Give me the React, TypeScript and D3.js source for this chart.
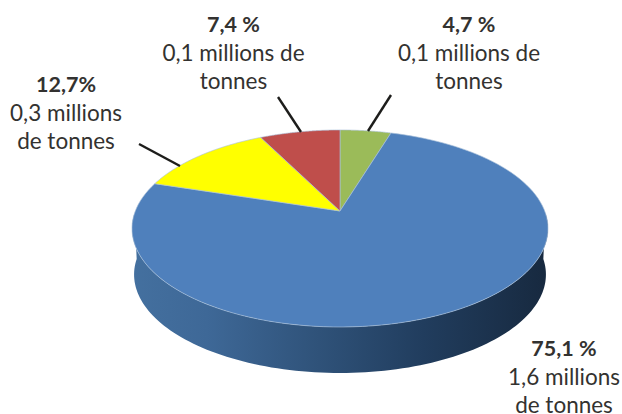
import React from "react";
import * as d3 from "d3";

const sliceNames = ["Vert", "Bleu", "Jaune", "Rouge"];
const sliceShares = [4.7, 75.1, 12.7, 7.4];
const sliceColors = ["#9bbb59", "#4f80bc", "#ffff00", "#bf4e4b"];
const headline = ["4,7 %", "7,4 %", "12,7%", "75,1 %"];
const firstLine = ["0,1 millions de", "0,1 millions de", "0,3 millions", "1,6 millions"];
const secondLine = ["tonnes", "tonnes", "de tonnes", "de tonnes"];
const labelX = [469, 233.5, 66, 564];
const labelY = [32, 32, 92, 356];
const leaderStart: [number, number][] = [[391, 95], [278, 97], [139, 144]];
const leaderEnd: [number, number][] = [[368, 131], [301, 132], [180, 166]];

const W = 622, H = 414;
const cx = 340, cy = 211;
const a = 204.7, b = 95.4, k = 0.1776;
const depth = 46;

// Perspective projection of the disc: angle is clockwise from 12 o'clock
const project = (r: number, t: number): [number, number] => {
  const u = r * Math.sin(t), v = r * Math.cos(t), w = 1 + k * v;
  return [cx + (a * u) / w, cy - (b * v) / w];
};
const line = d3.line();
const arcPts = (t0: number, t1: number) => d3.range(0, 121).map((i) => project(1, t0 + ((t1 - t0) * i) / 120));

const pieGen = d3.pie<number>().sort(null).value((d) => d);
const arcs = pieGen(sliceShares);

const wallTop = arcPts(Math.PI / 2 + 0.02, (3 * Math.PI) / 2 - 0.02);
const scaleB = 0.99;
const wallBottom = wallTop.map(([x, y]) => [cx + (x - cx) * scaleB, y + depth] as [number, number]);
const wallPath = line([...wallTop, ...wallBottom.slice().reverse()])! + "Z";

const wallStops: [number, string][] = [
  [0, "#44709f"], [0.18, "#3e6897"], [0.45, "#2f5279"], [0.7, "#213d5e"], [1, "#17293f"],
];

export default function App() {
  return (
    <svg width={W} height={H} viewBox={`0 0 ${W} ${H}`} style={{ position: "fixed", left: 0, top: 0, background: "#fff" }}>
      <defs>
        <linearGradient id="wall" x1={132} x2={548} y1={0} y2={0} gradientUnits="userSpaceOnUse">
          {wallStops.map(([o, c]) => <stop key={o} offset={o} stopColor={c} />)}
        </linearGradient>
      </defs>
      <path d={wallPath} fill="url(#wall)" />
      {arcs.map((d, i) => (
        <path key={sliceNames[i]} d={line([[cx, cy], ...arcPts(d.startAngle, d.endAngle)])! + "Z"}
          fill={sliceColors[i]} stroke="#a9c0da" strokeOpacity={0.65} strokeWidth={1} strokeLinejoin="round" />
      ))}
      {leaderStart.map((s, i) => (
        <line key={i} x1={s[0]} y1={s[1]} x2={leaderEnd[i][0]} y2={leaderEnd[i][1]} stroke="#1d1d1b" strokeWidth={2.4} />
      ))}
      {headline.map((h, i) => (
        <text key={i} textAnchor="middle" fontFamily="Lato" fontSize={22.5} fill="#333230">
          <tspan x={labelX[i]} y={labelY[i]} fontWeight={700} fontSize={21.5}>{h}</tspan>
          <tspan x={labelX[i]} y={labelY[i] + 29}>{firstLine[i]}</tspan>
          <tspan x={labelX[i]} y={labelY[i] + 57}>{secondLine[i]}</tspan>
        </text>
      ))}
    </svg>
  );
}
